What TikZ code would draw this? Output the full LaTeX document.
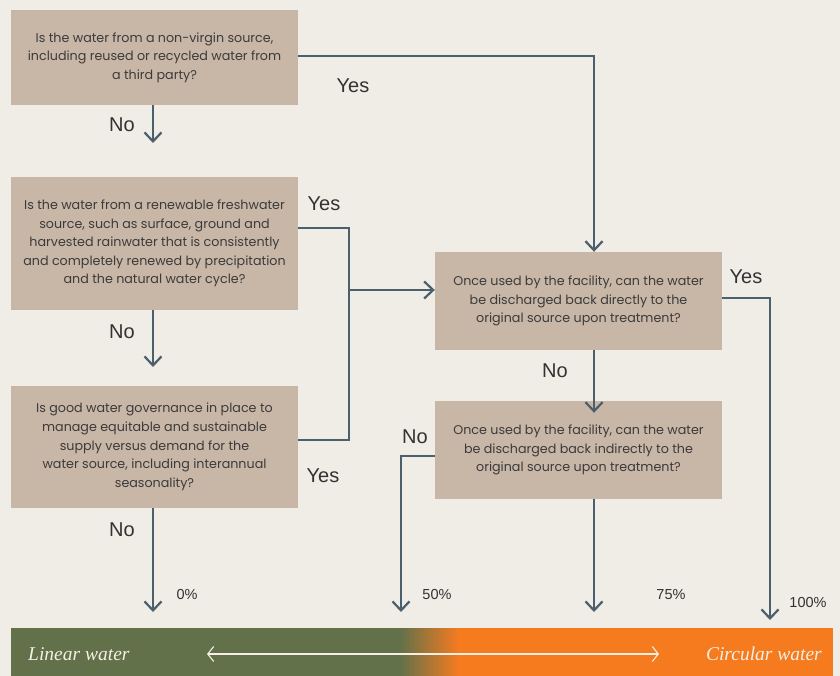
\documentclass[tikz,border=0pt]{standalone}
\usepackage{fontspec}
\setmainfont{Poppins}
\newfontfamily\barfont{Liberation Serif}
\newfontfamily\labelfont{Liberation Sans}
\usetikzlibrary{arrows.meta}
\definecolor{bg}{HTML}{F0ECE6}
\definecolor{boxfill}{HTML}{C8B6A6}
\definecolor{flow}{HTML}{4B5F6C}
\definecolor{ink}{HTML}{3B3B3B}
\definecolor{linear}{HTML}{627149}
\definecolor{circular}{HTML}{F67B1F}
\definecolor{cream}{HTML}{F5EFE6}
\tikzset{
  question/.style={fill=boxfill, draw=none, inner sep=0pt, text=ink,
    align=center, font=\fontsize{12.7}{18.6}\selectfont},
  flowline/.style={draw=flow, line width=2.6pt,
    -{Straight Barb[length=9pt,width=17pt,line width=2.2pt]}},
  plainline/.style={draw=flow, line width=2.6pt},
  answer/.style={text=ink!85!black, font=\labelfont\fontsize{20}{22}\selectfont, inner sep=0pt},
  share/.style={text=ink!85!black, font=\labelfont\fontsize{14.5}{16}\selectfont, inner sep=0pt},
  barlabel/.style={text=cream, font=\barfont\itshape\fontsize{19.5}{21}\selectfont, inner sep=0pt}
}
\begin{document}
\begin{tikzpicture}[x=1pt,y=-1pt]
  \fill[bg] (0,0) rectangle (840,676);
  \useasboundingbox (0,0) rectangle (840,676);

  % question boxes
  \node[question, minimum width=287pt, minimum height=95pt] (q1) at (154.5,57.5)
    {Is the water from a non-virgin source,\\including reused or recycled water from\\a third party?};
  \node[question, minimum width=287pt, minimum height=133pt] (q2) at (154.5,243.5)
    {Is the water from a renewable freshwater\\source, such as surface, ground and\\harvested rainwater that is consistently\\and completely renewed by precipitation\\and the natural water cycle?};
  \node[question, minimum width=287pt, minimum height=122pt] (q3) at (154.5,447)
    {Is good water governance in place to\\manage equitable and sustainable\\supply versus demand for the\\water source, including interannual\\seasonality?};
  \node[question, minimum width=287pt, minimum height=98pt] (q4) at (578.5,301)
    {Once used by the facility, can the water\\be discharged back directly to the\\original source upon treatment?};
  \node[question, minimum width=287pt, minimum height=98pt] (q5) at (578.5,450)
    {Once used by the facility, can the water\\be discharged back indirectly to the\\original source upon treatment?};

  % junctions and arrow ends
  \coordinate (y1) at (594,56);
  \coordinate (j2a) at (349,228);
  \coordinate (j2b) at (349,440);
  \coordinate (j2m) at (349,290);
  \coordinate (q2in) at (153,367);
  \coordinate (q1out) at (153,143);
  \coordinate (e0) at (153,612);
  \coordinate (e50a) at (401,456);
  \coordinate (e50) at (401,612);
  \coordinate (e75) at (594,612);
  \coordinate (e100a) at (770,298);
  \coordinate (e100) at (770,620);

  % connectors
  \draw[flowline] (q1.south -| q1out) -- (q1out);
  \draw[flowline] (q1.east |- y1) -- (y1) -- (q4.north -| y1);
  \draw[flowline] (q2.south -| q2in) -- (q2in);
  \draw[plainline] (q2.east |- j2a) -- (j2a) -- (j2b) -- (q3.east |- j2b);
  \draw[flowline] (j2m) -- (q4.west |- j2m);
  \draw[flowline] (q3.south -| e0) -- (e0);
  \draw[flowline] (q4.south -| y1) -- ([yshift=-12pt]q5.north -| y1);
  \draw[flowline] (q4.east |- e100a) -- (e100a) -- (e100);
  \draw[flowline] (q5.west |- e50a) -- (e50a) -- (e50);
  \draw[flowline] (q5.south -| e75) -- (e75);

  % answer labels
  \node[answer] (a1) at (122,125) {No};
  \node[answer] (a2) at (353,86) {Yes};
  \node[answer] (a3) at (324,204) {Yes};
  \node[answer] (a4) at (122,332) {No};
  \node[answer] (a5) at (323,476) {Yes};
  \node[answer] (a6) at (122,530) {No};
  \node[answer] (a7) at (555,371) {No};
  \node[answer] (a8) at (746,277) {Yes};
  \node[answer] (a9) at (415,437) {No};

  % shares
  \node[share] (p0) at (187,595) {0\%};
  \node[share] (p50) at (437,595) {50\%};
  \node[share] (p75) at (671,595) {75\%};
  \node[share] (p100) at (808,603) {100\%};

  % linear to circular bar
  \fill[linear] (11,628) rectangle (401,676);
  \shade[left color=linear, right color=circular] (400,628) rectangle (459,676);
  \fill[circular] (458,628) rectangle (833,676);
  \node[barlabel, anchor=west] (lin) at (28,654) {Linear water};
  \node[barlabel, anchor=east] (circ) at (822,654) {Circular water};
  \coordinate (bl) at (207,654);
  \coordinate (br) at (659,654);
  \draw[cream, line width=1.1pt,
    {Straight Barb[length=6pt,width=15pt,line width=1.1pt]}-{Straight Barb[length=6pt,width=15pt,line width=1.1pt]}]
    (bl) -- (br);
\end{tikzpicture}
\end{document}
